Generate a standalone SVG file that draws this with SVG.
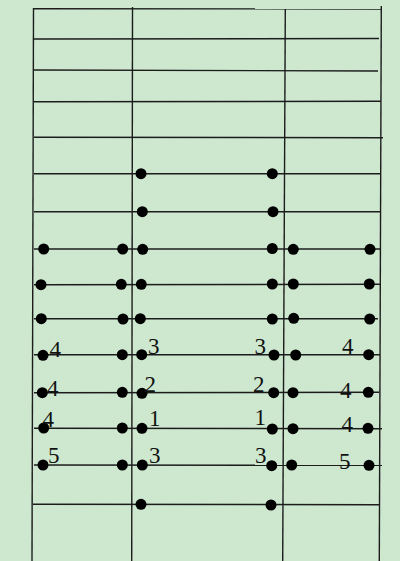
<svg xmlns="http://www.w3.org/2000/svg" width="400" height="561" viewBox="0 0 400 561">
<style>
.ln{stroke:#1c1c1c;stroke-width:1.4;fill:none}
.dot{fill:#000}
.lbl{font-family:"Liberation Serif","Times New Roman",serif;font-size:23px;fill:#111}
</style>
<rect x="0" y="0" width="400" height="561" fill="#cde8cf"/>
<g id="connectors">
<line class="ln" x1="33.5" y1="8" x2="32" y2="561"/>
<line class="ln" x1="132.5" y1="7" x2="131.7" y2="561"/>
<line class="ln" x1="285.3" y1="9" x2="282.7" y2="561"/>
<line class="ln" x1="381.3" y1="6" x2="379.3" y2="561"/>
<line class="ln" x1="33" y1="8.7" x2="381" y2="9"/>
<line class="ln" x1="34" y1="39" x2="379" y2="38.5"/>
<line class="ln" x1="34" y1="70" x2="378" y2="71"/>
<line class="ln" x1="34" y1="101.7" x2="381" y2="101.3"/>
<line class="ln" x1="34" y1="137.3" x2="383" y2="137.7"/>
<line class="ln" x1="34" y1="173.7" x2="381" y2="173.7"/>
<line class="ln" x1="34" y1="211.7" x2="381" y2="211.7"/>
<line class="ln" x1="34" y1="249" x2="381" y2="249"/>
<line class="ln" x1="34" y1="284.7" x2="381" y2="284.3"/>
<line class="ln" x1="34" y1="318.7" x2="378" y2="318.7"/>
<line class="ln" x1="34" y1="354.7" x2="380" y2="354.7"/>
<line class="ln" x1="34" y1="392.7" x2="379" y2="392.3"/>
<line class="ln" x1="34" y1="428.3" x2="382" y2="428.7"/>
<line class="ln" x1="34" y1="465" x2="382" y2="465.3"/>
<line class="ln" x1="33" y1="504.3" x2="380" y2="504.7"/>
</g>
<g id="row1"><circle class="dot" cx="141" cy="173.7" r="5.5"/><circle class="dot" cx="272.3" cy="173.7" r="5.5"/></g>
<g id="row2"><circle class="dot" cx="142.3" cy="211.7" r="5.5"/><circle class="dot" cx="273" cy="211.7" r="5.5"/></g>
<g id="row3"><circle class="dot" cx="43.7" cy="249" r="5.5"/><circle class="dot" cx="122.7" cy="249" r="5.5"/><circle class="dot" cx="142.7" cy="249.3" r="5.5"/><circle class="dot" cx="272.3" cy="248.5" r="5.5"/><circle class="dot" cx="293.3" cy="249.3" r="5.5"/><circle class="dot" cx="370" cy="249.3" r="5.5"/></g>
<g id="row4"><circle class="dot" cx="41" cy="284.7" r="5.5"/><circle class="dot" cx="121.3" cy="284.3" r="5.5"/><circle class="dot" cx="141.3" cy="284.3" r="5.5"/><circle class="dot" cx="272.3" cy="284" r="5.5"/><circle class="dot" cx="293.3" cy="284" r="5.5"/><circle class="dot" cx="369.3" cy="284" r="5.5"/></g>
<g id="row5"><circle class="dot" cx="41.3" cy="318.7" r="5.5"/><circle class="dot" cx="123" cy="319" r="5.5"/><circle class="dot" cx="140.3" cy="318.7" r="5.5"/><circle class="dot" cx="272.3" cy="319" r="5.5"/><circle class="dot" cx="293.7" cy="318.3" r="5.5"/><circle class="dot" cx="369.7" cy="319" r="5.5"/></g>
<g id="row6"><circle class="dot" cx="43" cy="355.3" r="5.5"/><circle class="dot" cx="122.3" cy="354.7" r="5.5"/><circle class="dot" cx="141.7" cy="354.7" r="5.5"/><circle class="dot" cx="274" cy="355" r="5.5"/><circle class="dot" cx="295.7" cy="355" r="5.5"/><circle class="dot" cx="368.7" cy="354.7" r="5.5"/>
<text class="lbl" x="49.5" y="356.5">4</text><text class="lbl" x="148" y="353.5">3</text><text class="lbl" x="254.5" y="354">3</text><text class="lbl" x="342" y="354">4</text></g>
<g id="row7"><circle class="dot" cx="42.3" cy="392.7" r="5.5"/><circle class="dot" cx="122.3" cy="392.3" r="5.5"/><circle class="dot" cx="142" cy="393.3" r="5.5"/><circle class="dot" cx="273.7" cy="392.7" r="5.5"/><circle class="dot" cx="293" cy="392.7" r="5.5"/><circle class="dot" cx="368.3" cy="392.3" r="5.5"/>
<text class="lbl" x="47" y="396">4</text><text class="lbl" x="144.5" y="391.7">2</text><text class="lbl" x="253" y="392">2</text><text class="lbl" x="340" y="397.5">4</text></g>
<g id="row8"><circle class="dot" cx="43.7" cy="428" r="5.5"/><circle class="dot" cx="122.3" cy="428" r="5.5"/><circle class="dot" cx="142" cy="428.3" r="5.5"/><circle class="dot" cx="272.3" cy="429" r="5.5"/><circle class="dot" cx="293" cy="428.7" r="5.5"/><circle class="dot" cx="368" cy="428.3" r="5.5"/>
<text class="lbl" x="42.5" y="426.7">4</text><text class="lbl" x="149" y="425.7">1</text><text class="lbl" x="254.5" y="425">1</text><text class="lbl" x="341.5" y="431.7">4</text></g>
<g id="row9"><circle class="dot" cx="43" cy="465" r="5.5"/><circle class="dot" cx="122.3" cy="465" r="5.5"/><circle class="dot" cx="142.3" cy="465" r="5.5"/><circle class="dot" cx="271.7" cy="465.7" r="5.5"/><circle class="dot" cx="291.7" cy="465" r="5.5"/><circle class="dot" cx="369" cy="465.3" r="5.5"/>
<text class="lbl" x="48" y="463.3">5</text><text class="lbl" x="149" y="463.3">3</text><text class="lbl" x="255" y="463">3</text><text class="lbl" x="339" y="469.3">5</text></g>
<g id="row10"><circle class="dot" cx="141" cy="504.3" r="5.5"/><circle class="dot" cx="271" cy="505" r="5.5"/></g>
</svg>
